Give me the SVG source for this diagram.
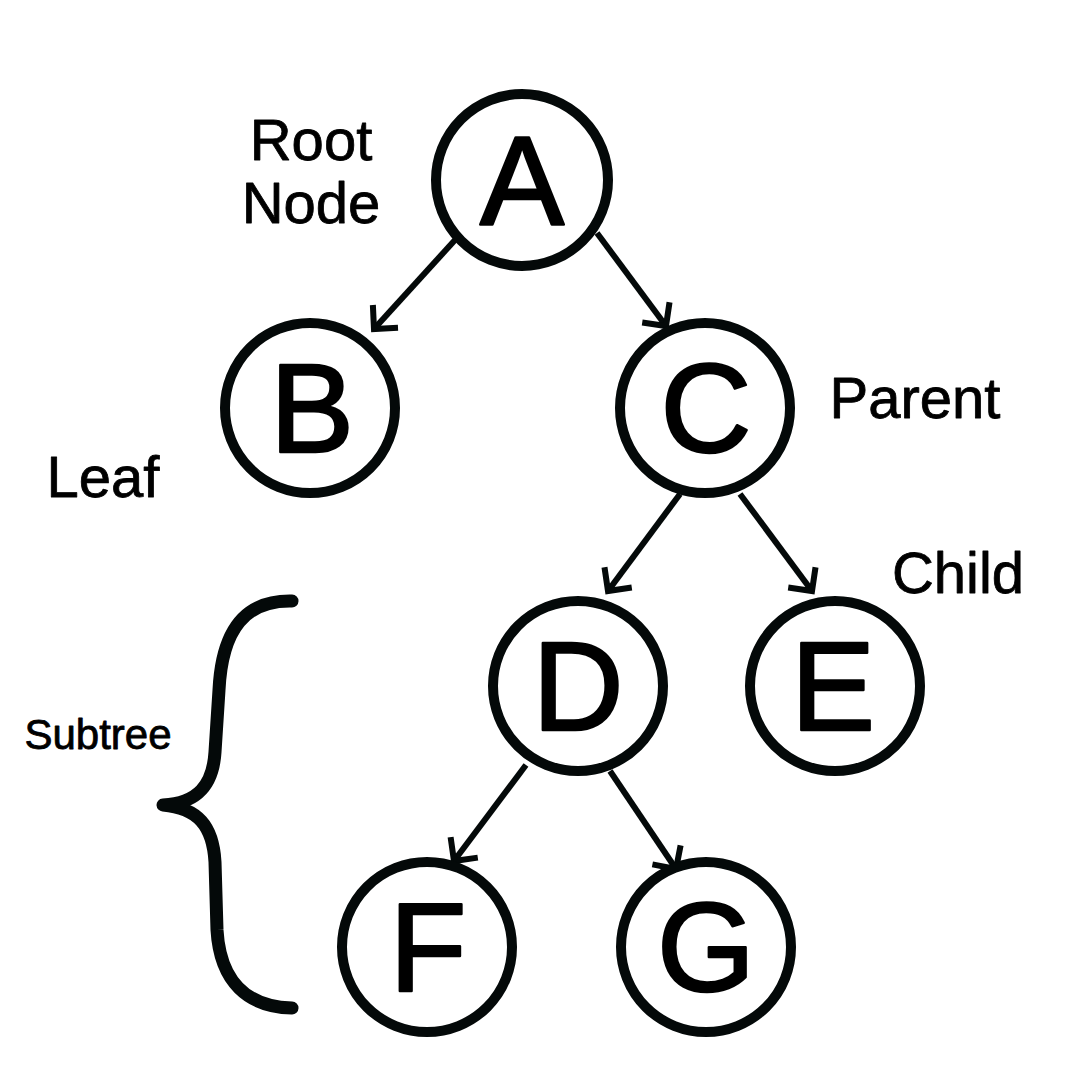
<svg xmlns="http://www.w3.org/2000/svg" width="1080" height="1080" viewBox="0 0 1080 1080">
<style>
.node circle{fill:#fff;stroke:#040909;stroke-width:10}
.node text{font-family:"Liberation Sans",Arial,sans-serif;font-size:126px;fill:#000;stroke:#000;stroke-width:2.5;stroke-linejoin:round;text-anchor:middle}
.lbl{font-family:"Liberation Sans",Arial,sans-serif;font-size:58px;fill:#000;stroke:#000;stroke-width:0.8;stroke-linejoin:round;text-anchor:middle}
.edge{stroke:#040909;stroke-width:6;fill:none;marker-end:url(#arr)}
</style>
<defs>
<marker id="arr" markerUnits="userSpaceOnUse" viewBox="-30 -30 40 60" markerWidth="40" markerHeight="60" refX="0" refY="0" orient="auto" overflow="visible">
<path d="M-17,-17 L0,0 L-17,17" fill="none" stroke="#040909" stroke-width="6"/>
</marker>
</defs>
<rect width="1080" height="1080" fill="#fff"/>
<g id="connectors">
<line class="edge" x1="455" y1="240" x2="374" y2="329"/>
<line class="edge" x1="597" y1="233" x2="666" y2="326"/>
<line class="edge" x1="680" y1="494" x2="608" y2="591"/>
<line class="edge" x1="740" y1="494" x2="812" y2="591"/>
<line class="edge" x1="526" y1="765" x2="454" y2="861"/>
<line class="edge" x1="610" y1="771" x2="676" y2="869"/>
</g>
<g id="node-A" class="node"><circle cx="522" cy="180" r="86"/><text x="522" y="224">A</text></g>
<g id="node-B" class="node"><circle cx="310" cy="408" r="85"/><text x="312" y="452">B</text></g>
<g id="node-C" class="node"><circle cx="705" cy="408" r="85"/><text x="706" y="452">C</text></g>
<g id="node-D" class="node"><circle cx="578" cy="686" r="85"/><text x="578" y="730">D</text></g>
<g id="node-E" class="node"><circle cx="835" cy="686" r="85"/><text x="833" y="730">E</text></g>
<g id="node-F" class="node"><circle cx="427" cy="947" r="85"/><text x="428" y="991">F</text></g>
<g id="node-G" class="node"><circle cx="706" cy="947" r="85"/><text x="706" y="991">G</text></g>
<g id="labels">
<text class="lbl" x="311" y="160">Root</text>
<text class="lbl" x="311" y="223">Node</text>
<text class="lbl" x="915" y="418">Parent</text>
<text class="lbl" x="103" y="497">Leaf</text>
<text class="lbl" x="958" y="593">Child</text>
<text class="lbl" x="98" y="749" style="font-size:42px">Subtree</text>
</g>
<g id="brace">
<path d="M292,601 C246,600 222,628 219,690 L215,752 C213,785 198,803 163,805 C198,808 213,826 215,862 L217,930 C220,982 248,1007 292,1008" fill="none" stroke="#040909" stroke-width="13" stroke-linecap="round" stroke-linejoin="round"/>
</g>
</svg>
